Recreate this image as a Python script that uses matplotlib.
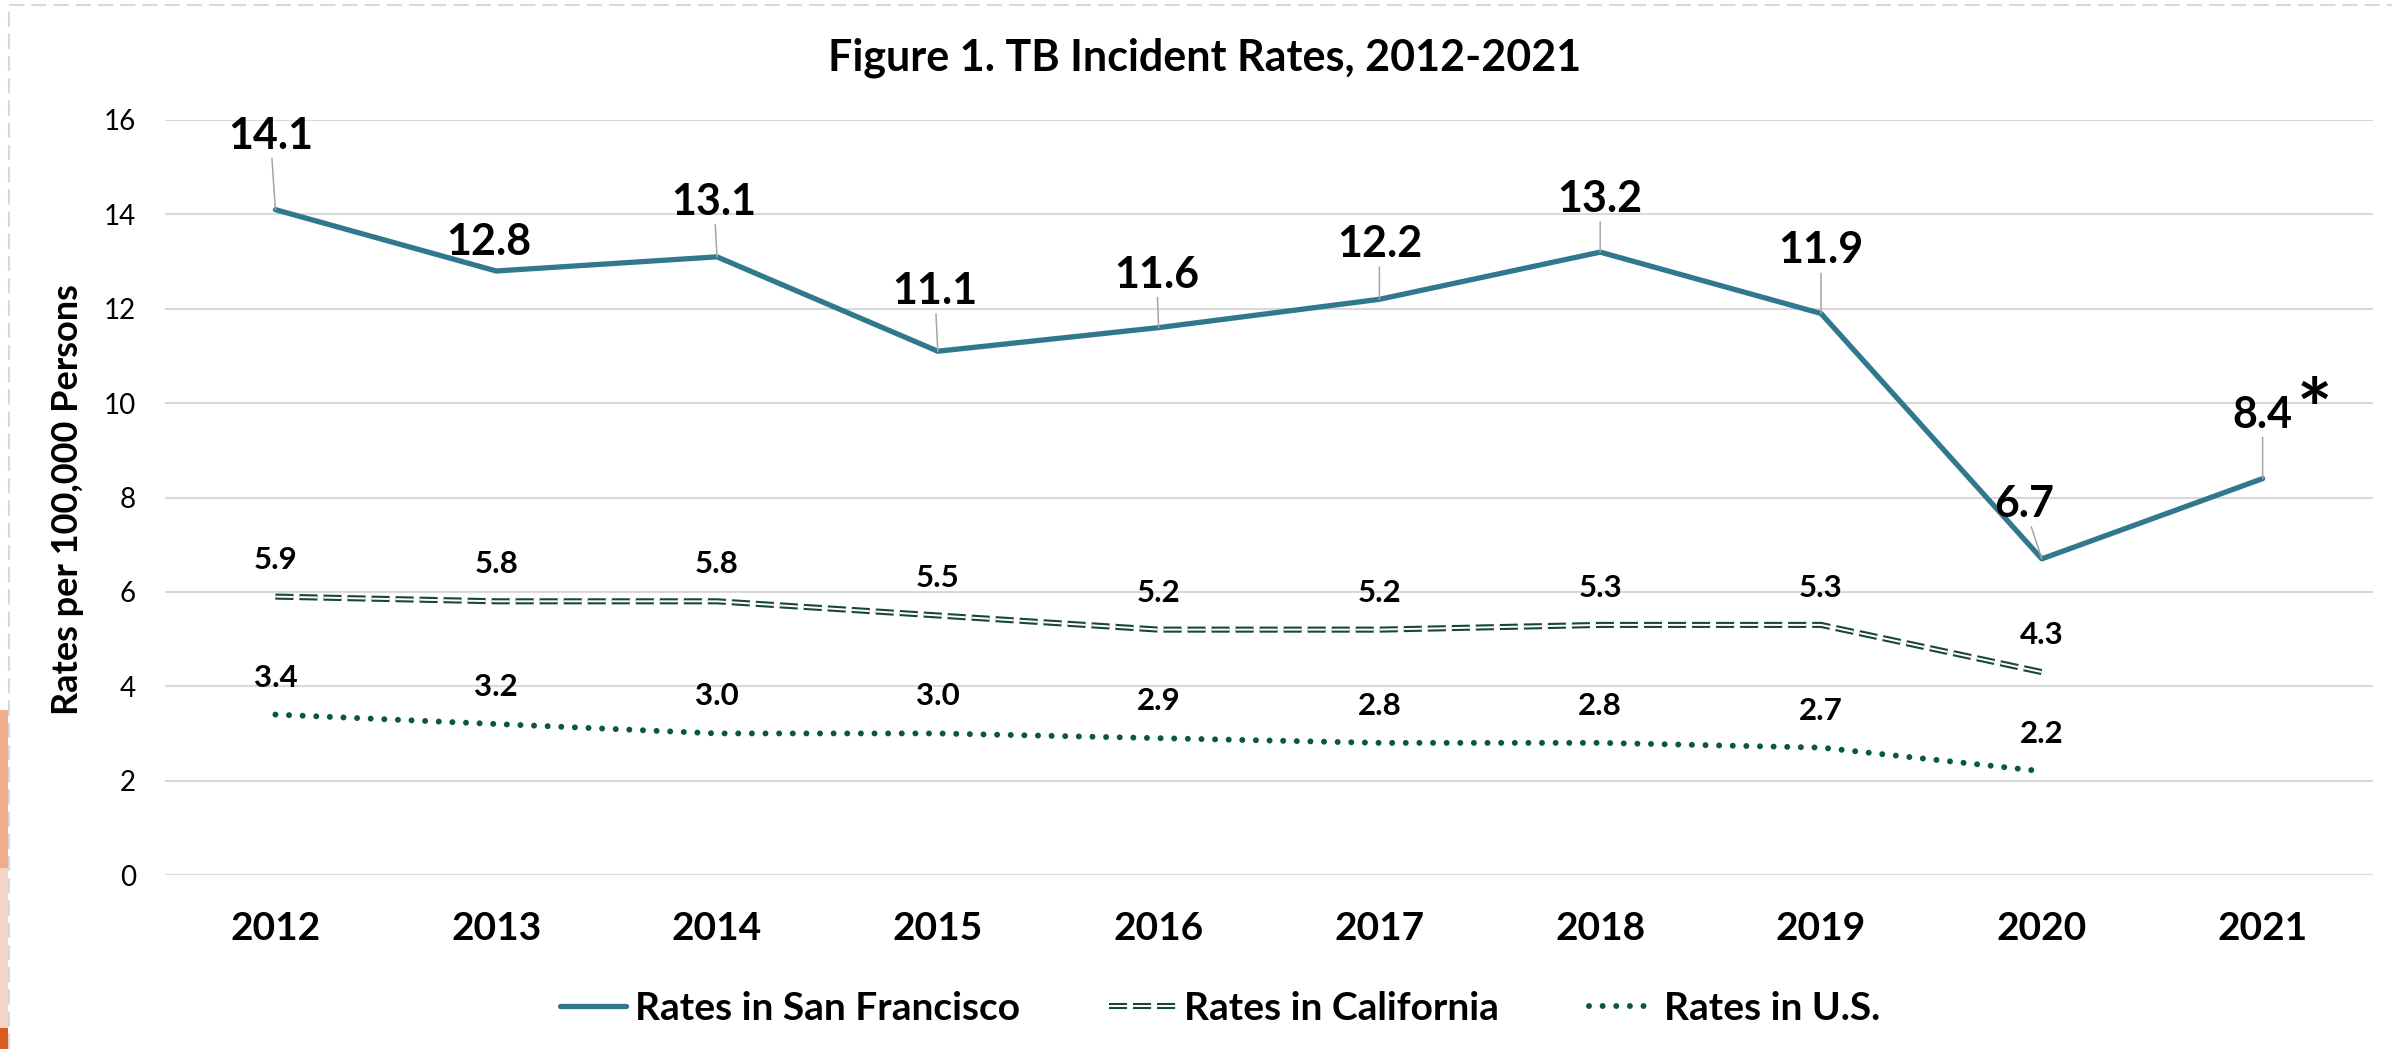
import numpy as np
import matplotlib.pyplot as plt
from matplotlib.lines import Line2D
from matplotlib.patches import Rectangle

plt.rcParams['font.family'] = ['Lato', 'DejaVu Sans']
plt.rcParams['lines.scale_dashes'] = False

years = ['2012', '2013', '2014', '2015', '2016', '2017', '2018', '2019', '2020', '2021']
sf = [14.1, 12.8, 13.1, 11.1, 11.6, 12.2, 13.2, 11.9, 6.7, 8.4]
ca = [5.9, 5.8, 5.8, 5.5, 5.2, 5.2, 5.3, 5.3, 4.3]
us = [3.4, 3.2, 3.0, 3.0, 2.9, 2.8, 2.8, 2.7, 2.2]

# label placement (pixels from the point), like the excel chart
sf_offsets = [(-5, 74), (-7, 29), (-3, 55), (-3, 60), (-2, 53), (0, 55), (0, 53), (0, 63), (-18, 55), (0, 64)]

sf_color = '#31788F'
ca_color = '#17492F'
us_color = '#0A5A36'
grid_color = '#D9D9D9'
leader_color = '#A6A6A6'

W, H = 2392, 1049
fig = plt.figure(figsize=(W / 100, H / 100), dpi=100)
ax = fig.add_axes([165 / W, 1 - 875 / H, (2373 - 165) / W, (875 - 120) / H])

x = np.arange(len(years))
sf_line, = ax.plot(x, sf, color=sf_color, lw=3.8, solid_capstyle='round',
                   solid_joinstyle='round', zorder=4)
ca_dark, = ax.plot(x[:len(ca)], ca, color=ca_color, lw=4.4, dashes=(13, 4.3), zorder=3)
ca_white, = ax.plot(x[:len(ca)], ca, color='white', lw=1.4, dashes=(13, 4.3), zorder=3.1)
us_line, = ax.plot(x[:len(us)], us, color=us_color, lw=4.3, dashes=(0.01, 9.8),
                   dash_capstyle='round', zorder=3)

ax.set_xlim(-0.5, len(years) - 0.5)
ax.set_ylim(0, 16)
ax.set_yticks(range(0, 17, 2))
ax.set_xticks(x)
ax.set_xticklabels(years, fontsize=28, fontweight='bold')
ax.tick_params(axis='y', length=0, pad=21, labelsize=20)
ax.tick_params(axis='x', length=0, pad=26)
ax.yaxis.grid(True, color=grid_color, lw=1.5)
ax.set_axisbelow(True)
for s in ax.spines.values():
    s.set_visible(False)

for i, v in enumerate(sf):
    dx, dy = sf_offsets[i]
    arrow = None
    if dy > 40:
        arrow = dict(arrowstyle='-', color=leader_color, lw=1.1, shrinkA=0, shrinkB=0)
    ax.annotate(f'{v:.1f}', (x[i], v), xytext=(dx, dy), textcoords='offset pixels',
                ha='center', va='center', fontsize=31, fontweight='bold',
                arrowprops=arrow, zorder=5)

for series in (ca, us):
    for i, v in enumerate(series):
        ax.annotate(f'{v:.1f}', (x[i], v), xytext=(0, 37), textcoords='offset pixels',
                    ha='center', va='center', fontsize=22.5, fontweight='bold')

ax.annotate('*', (x[-1], sf[-1]), xytext=(52, 40), textcoords='offset pixels',
            ha='center', va='baseline', fontsize=60, fontweight='bold')

fig.text(1205 / W, 1 - 71 / H, 'Figure 1. TB Incident Rates, 2012-2021',
         ha='center', va='baseline', fontsize=31, fontweight='bold')
fig.text(68 / W, 1 - 500 / H, 'Rates per 100,000 Persons', rotation=90,
         ha='center', va='center', fontsize=26, fontweight='bold')

ax.legend([sf_line, (ca_dark, ca_white), us_line],
          ['Rates in San Francisco', 'Rates in California', 'Rates in U.S.'],
          loc='center', bbox_to_anchor=(1220 / W, 1 - 1008 / H),
          bbox_transform=fig.transFigure, ncol=3, frameon=False,
          prop={'weight': 'bold', 'size': 28}, handlelength=1.7,
          handletextpad=0.23, columnspacing=2.3)

# dashed slide border and the orange strip on the left edge
fig.add_artist(Line2D([9 / W, 9 / W], [0, 1 - 5 / H], color=grid_color, lw=1.5, dashes=(11, 5)))
fig.add_artist(Line2D([9 / W, 1], [1 - 5 / H, 1 - 5 / H], color=grid_color, lw=1.5, dashes=(11, 5)))
fig.add_artist(Rectangle((0, 1 - 868 / H), 8 / W, 158 / H, color='#EEAE8C', lw=0))
fig.add_artist(Rectangle((0, 1 - 1028 / H), 8 / W, 160 / H, color='#F5D5C5', lw=0))
fig.add_artist(Rectangle((0, 0), 8 / W, 21 / H, color='#DC5A1E', lw=0))

fig.savefig('out.png', dpi=100)
